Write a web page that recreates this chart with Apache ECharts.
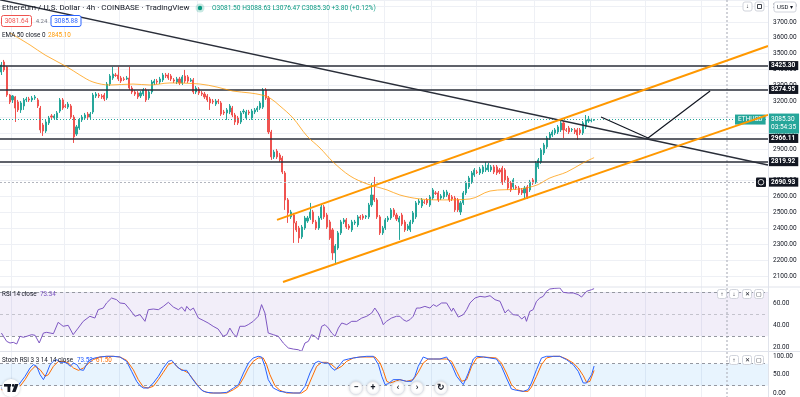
<!DOCTYPE html>
<html><head><meta charset="utf-8">
<script src="https://cdn.jsdelivr.net/npm/echarts@6/dist/echarts.min.js"></script>
<style>html,body{margin:0;padding:0;background:#fff}#c{width:800px;height:397px}</style>
</head><body><div id="c"></div>
<script>
// ---- DATA ----
// candles: [open, close, low, high]
const candles = [
[3385,3429,3366,3448],[3448,3398,3385,3461],[3417,3240,3228,3423],[3240,3196,3183,3246],[3209,3234,3190,3240],
[3228,3158,3070,3234],[3196,3146,3133,3209],[3146,3190,3127,3202],[3171,3209,3146,3221],[3209,3215,3196,3228],
[3215,3209,3196,3228],[3209,3221,3196,3234],[3221,3228,3209,3240],[3209,3171,3158,3221],[3158,3020,3001,3171],
[3051,3013,2982,3064],[3013,3070,3001,3083],[3064,3095,3051,3108],[3108,3101,3089,3120],[3095,3108,3083,3120],
[3095,3127,3083,3139],[3139,3209,3127,3221],[3209,3158,3146,3221],[3171,3168,3158,3183],[3164,3183,3152,3196],
[3171,3101,3089,3183],[3101,2976,2938,3114],[2994,3039,2982,3051],[3032,3083,3020,3095],[3083,3101,3070,3114],
[3095,3114,3083,3127],[3120,3101,3089,3133],[3101,3120,3083,3133],[3133,3240,3120,3253],[3234,3246,3221,3259],
[3240,3234,3221,3253],[3234,3228,3215,3246],[3240,3215,3202,3253],[3221,3309,3209,3322],[3309,3360,3297,3372],
[3347,3372,3335,3417],[3366,3363,3354,3379],[3366,3341,3328,3417],[3347,3328,3316,3360],[3341,3338,3328,3354],
[3341,3347,3335,3360],[3347,3284,3272,3417],[3284,3259,3246,3297],[3259,3246,3234,3272],[3253,3228,3215,3265],
[3234,3253,3221,3265],[3246,3272,3234,3284],[3272,3209,3196,3284],[3221,3259,3209,3272],[3259,3322,3246,3335],
[3316,3328,3303,3341],[3328,3322,3309,3341],[3322,3341,3309,3354],[3335,3366,3322,3379],[3366,3360,3347,3379],
[3366,3347,3335,3379],[3360,3341,3328,3372],[3335,3328,3316,3347],[3322,3341,3309,3354],[3341,3316,3303,3354],
[3316,3354,3303,3366],[3360,3328,3316,3398],[3354,3328,3316,3366],[3328,3335,3322,3347],[3335,3259,3246,3347],
[3259,3284,3246,3297],[3278,3253,3240,3290],[3253,3246,3234,3265],[3246,3228,3215,3259],[3234,3209,3196,3246],
[3215,3190,3146,3228],[3202,3196,3183,3215],[3183,3202,3171,3215],[3202,3196,3183,3215],[3190,3120,3108,3202],
[3133,3127,3114,3146],[3127,3146,3083,3158],[3133,3171,3120,3183],[3158,3114,3101,3171],[3114,3070,3051,3127],
[3095,3064,3051,3108],[3070,3127,3057,3139],[3133,3139,3120,3152],[3095,3133,3083,3146],[3133,3127,3114,3146],
[3095,3139,3083,3152],[3133,3146,3120,3158],[3146,3158,3133,3171],[3158,3190,3146,3202],[3164,3272,3152,3284],
[3272,3221,3209,3284],[3221,3007,2994,3234],[3007,2850,2831,3020],[2850,2881,2837,2894],[2887,2850,2837,2900],
[2862,2831,2818,2875],[2843,2755,2742,2856],[2749,2579,2516,2761],[2579,2497,2434,2591],[2472,2503,2459,2516],
[2484,2434,2308,2497],[2434,2390,2377,2446],[2402,2339,2308,2415],[2346,2408,2333,2421],[2402,2465,2390,2478],
[2446,2465,2434,2478],[2465,2503,2453,2560],[2503,2440,2427,2516],[2440,2402,2390,2453],[2402,2465,2390,2478],
[2465,2535,2453,2547],[2535,2472,2459,2547],[2484,2408,2396,2497],[2440,2339,2327,2453],[2390,2245,2201,2402],
[2245,2289,2176,2301],[2276,2371,2264,2383],[2371,2440,2358,2453],[2440,2453,2427,2465],[2453,2408,2396,2465],
[2415,2402,2390,2427],[2390,2440,2377,2453],[2434,2440,2421,2453],[2421,2472,2408,2484],[2472,2465,2453,2484],
[2478,2465,2453,2490],[2472,2478,2459,2484],[2472,2547,2459,2560],[2547,2610,2535,2686],[2610,2579,2566,2724],
[2579,2472,2459,2591],[2472,2371,2358,2484],[2371,2402,2358,2415],[2402,2453,2390,2465],[2453,2465,2440,2478],
[2465,2516,2453,2528],[2516,2484,2472,2528],[2484,2459,2446,2497],[2440,2465,2327,2478],[2484,2427,2415,2497],
[2440,2390,2377,2453],[2396,2415,2383,2427],[2390,2440,2377,2453],[2440,2497,2427,2509],[2472,2560,2459,2572],
[2560,2572,2547,2585],[2541,2579,2528,2591],[2566,2563,2553,2579],[2579,2560,2547,2591],[2547,2598,2535,2610],
[2591,2642,2579,2654],[2623,2620,2610,2635],[2623,2579,2566,2635],[2591,2604,2579,2616],[2598,2629,2585,2642],
[2610,2629,2598,2642],[2610,2579,2566,2623],[2598,2585,2572,2610],[2591,2516,2503,2604],[2579,2516,2503,2591],
[2503,2560,2484,2572],[2560,2623,2547,2635],[2623,2686,2610,2698],[2661,2717,2648,2730],[2692,2749,2680,2761],
[2736,2768,2724,2780],[2755,2752,2742,2768],[2749,2774,2736,2787],[2755,2787,2742,2799],[2768,2780,2755,2818],
[2768,2799,2755,2812],[2768,2787,2755,2799],[2787,2755,2742,2799],[2787,2749,2736,2799],[2768,2755,2742,2780],
[2780,2686,2673,2793],[2768,2705,2692,2780],[2717,2654,2642,2730],[2686,2642,2629,2698],[2661,2705,2648,2717],
[2661,2654,2642,2673],[2654,2623,2610,2667],[2642,2623,2610,2654],[2623,2654,2591,2667],[2661,2598,2585,2673],
[2642,2692,2629,2705],[2705,2686,2673,2717],[2692,2812,2680,2824],[2787,2831,2774,2843],[2818,2894,2806,2906],
[2875,2925,2862,2938],[2913,2969,2900,2982],[2969,2994,2957,3007],[2988,3007,2976,3020],[3001,3020,2988,3032],
[3007,3039,2994,3051],[3020,3064,3007,3076],[3064,3020,2969,3076],[3020,3017,3007,3032],[3032,3007,2994,3045],
[3020,3023,3007,3032],[3020,3007,2994,3032],[3020,2988,2957,3032],[3020,3001,2988,3032],[3001,3064,2988,3076],
[3039,3083,3026,3114],[3076,3088,3064,3108],[3078,3081.6,3068,3092],[3081.5,3085.3,3076.47,3088.63]
];
const slotCount = 276;
// EMA 50: [bar index, price]
const emaPoints = [[3.1,3631],[10.3,3555],[15.7,3492],[23.6,3417],[28.2,3366],[32.9,3322],[39,3303],[47.3,3309],[53.4,3303],[60.6,3316],[71.4,3309],[77.5,3290],[83.2,3265],[89.3,3253],[93.6,3240],[96.5,3221],[100.1,3171],[104.8,3095],[109.8,2982],[114.5,2906],[119.2,2818],[125.3,2730],[131.4,2680],[138.6,2642],[143.2,2610],[150.4,2585],[158.7,2579],[168.4,2585],[175.6,2635],[186.4,2648],[192.5,2673],[197.1,2717],[203.2,2755],[209,2812],[213,2845.1]];
// drawn trend lines: [bar index, price]
const downTrend = [[-0.5,3840],[275.5,2799]];
const channelUpper = [[99.05,2453],[275.5,3549]];
const channelLower = [[101.2,2062],[275.5,3115]];
const projection = [[215.5,3101],[232.4,2969],[254.7,3265]];
const levels = [3425.30, 3274.95, 2966.11, 2819.92];
const alertLevel = 2690.93;
const lastPrice = 3085.30;
const lastTime = '03:54:35';
const priceTicks = [2100,2200,2300,2400,2500,2600,2700,2800,2900,3000,3100,3200,3300,3400,3500,3600,3700,3800];
const rsiTicks = [20,40,60];
const stochTicks = [0,50,100];
const vGrid = [4,23,43,71,91,118,138,155,171,192,212,232,252];
// RSI 14: [bar index, value]
const rsiPoints = [[0,33.0],[0.7,31.5],[1.9,25.4],[3.1,23.9],[4.3,24.5],[5.5,23.0],[6.7,30.0],[7.9,29.1],[9.1,30.0],[10.9,31.5],[12.1,30.9],[13.6,23.9],[15.1,33.0],[16.3,33.6],[17.5,33.0],[18.7,32.4],[20.4,42.7],[22.2,39.1],[24.0,40.0],[25.8,31.5],[27.6,37.5],[29.4,43.6],[31.8,48.2],[33.6,46.6],[34.8,54.2],[36.6,55.7],[37.8,60.3],[39.6,64.8],[41.4,63.3],[42.6,60.3],[44.4,59.7],[46.2,54.2],[48.0,48.2],[49.8,49.7],[51.6,43.6],[52.8,54.2],[54.6,54.8],[56.4,54.2],[58.2,57.2],[60.0,60.9],[61.8,56.6],[63.6,54.2],[64.8,56.6],[66.0,52.7],[66.6,57.2],[67.8,53.6],[69.0,55.7],[70.8,46.6],[72.5,44.5],[74.3,42.1],[76.1,39.1],[77.9,36.6],[79.7,30.0],[81.0,31.5],[82.1,37.5],[83.3,32.4],[84.5,29.4],[85.7,39.1],[87.5,39.1],[88.7,40.6],[90.5,43.6],[92.3,48.2],[93.5,58.8],[94.7,51.2],[95.9,33.0],[97.7,31.5],[99.5,30.0],[101.3,23.9],[103.1,19.4],[104.9,18.4],[106.7,17.8],[107.9,16.3],[109.1,23.9],[110.3,25.4],[111.5,31.5],[112.7,30.0],[113.9,26.9],[115.1,39.1],[116.3,40.6],[117.5,37.5],[118.7,33.0],[119.9,30.0],[121.1,37.5],[122.3,42.1],[124.1,40.6],[125.9,43.6],[127.7,43.6],[129.5,46.6],[131.3,48.2],[133.1,51.2],[134.2,55.7],[135.4,51.2],[136.6,45.1],[137.2,40.6],[138.4,43.6],[140.2,46.6],[142.0,48.2],[143.2,48.2],[144.4,45.1],[145.6,43.6],[146.8,45.1],[148.0,48.2],[149.2,55.7],[150.4,55.7],[152.2,57.2],[154.0,55.7],[155.2,58.8],[156.4,57.2],[158.2,60.3],[160.0,60.3],[161.8,52.7],[162.4,55.7],[164.2,47.5],[166.0,49.7],[167.2,54.2],[168.4,60.3],[170.2,64.8],[172.0,66.3],[173.8,65.7],[175.6,66.9],[177.4,63.3],[179.2,61.8],[181.0,51.2],[182.1,54.2],[183.9,49.7],[185.7,49.1],[187.0,45.7],[188.1,48.2],[188.7,43.6],[189.9,52.7],[191.1,54.2],[192.3,61.8],[193.5,64.8],[194.7,66.3],[195.9,70.9],[197.1,73.0],[198.9,73.6],[200.7,73.9],[201.3,75.4],[201.9,70.0],[203.7,69.4],[205.5,69.4],[207.3,67.9],[208.5,65.7],[210.3,70.9],[212.1,72.4],[213,73.34]];
// Stoch RSI %K and %D: [bar index, value]
const kPoints = [[0,13.6],[1.3,4.5],[3.1,4.5],[4.9,9.1],[6.7,27.3],[8.5,45.5],[10.3,68.2],[11.5,77.3],[12.7,72.7],[13.9,50],[15.1,36.4],[16.3,54.5],[17.5,77.3],[18.7,86.4],[19.9,90.9],[21.1,83.6],[22.3,83.6],[23.5,81.8],[24.7,72.7],[25.9,81.8],[27.1,77.3],[28.3,63.6],[29.5,61.8],[30.6,77.3],[31.8,90.9],[33.6,95.5],[35.4,98.2],[37.8,100],[40.2,100],[42.6,98.2],[45,86.4],[46.8,59.1],[48.6,31.8],[49.8,20],[51,13.6],[52.8,13.6],[54.6,27.3],[56.4,45.5],[58.2,68.2],[60,86.4],[61.2,89.1],[63,72.7],[64.8,61.8],[66.6,61.8],[68.4,40.9],[70.2,22.7],[72,7.3],[73.8,1.8],[76.2,0],[78.6,0],[81,1.8],[83.4,13.6],[85.2,22.7],[87,54.5],[88.8,81.8],[90.5,95.5],[92.3,100],[93.5,98.2],[94.7,72.7],[95.9,36.4],[97.7,13.6],[100.1,4.5],[102.5,1.8],[104.9,0],[107.3,0],[109.1,18.2],[110.9,54.5],[112.7,81.8],[113.9,86.4],[115.7,81.8],[117.5,81.8],[118.7,68.2],[119.9,61.8],[121.7,77.3],[122.9,89.1],[124.7,92.7],[126.5,95.5],[128.9,98.2],[131.3,100],[133.7,100],[135.5,77.3],[136.7,45.5],[137.9,22.7],[139.1,25.5],[140.8,36.4],[143.2,36.4],[145.6,31.8],[147.4,31.8],[148.6,45.5],[149.8,72.7],[151.6,98.2],[153.4,92.7],[155.2,92.7],[157.6,92.7],[160.0,98.2],[161.8,77.3],[163.6,45.5],[166.0,22.7],[167.8,54.5],[169.6,92.7],[170.8,100],[173.2,98.2],[175.5,95.5],[177.9,92.7],[179.7,72.7],[181.5,40.9],[183.3,10.9],[185.1,7.3],[187.5,4.5],[189.3,9.1],[190.5,27.3],[192.3,63.6],[194.1,95.5],[195.9,100],[198.3,100],[200.7,100],[203.1,90.9],[205.5,77.3],[207.3,59.1],[209.1,27.3],[210.3,27.3],[212.1,50],[213,73.52]];
const dPoints = [[0,9.1],[1.9,7.3],[4.3,7.3],[6.7,18.2],[8.5,36.4],[10.3,59.1],[12.1,72.7],[13.9,63.6],[15.7,45.5],[16.9,50],[18.7,72.7],[20.5,86.4],[22.3,86.4],[24.1,81.8],[25.9,68.2],[27.7,61.8],[29.5,68.2],[31.2,80],[33.0,90.9],[35.4,98.2],[37.8,100],[40.2,100],[42.6,98.2],[45.0,89.1],[47.4,63.6],[49.2,36.4],[51.0,16.4],[52.8,13.6],[54.6,18.2],[56.4,36.4],[58.2,56.4],[60.0,77.3],[61.8,83.6],[63.6,68.2],[65.4,61.8],[67.2,54.5],[69.0,36.4],[70.8,18.2],[72.6,4.5],[75.0,0],[81.0,0],[83.4,9.1],[85.2,18.2],[87.0,40.9],[88.8,68.2],[90.5,86.4],[92.3,95.5],[94.1,95.5],[95.3,77.3],[96.5,50],[98.3,20],[100.1,7.3],[102.5,0],[107.9,0],[109.7,9.1],[111.5,40.9],[113.3,72.7],[115.1,83.6],[116.9,83.6],[118.7,77.3],[120.5,65.5],[122.3,72.7],[124.1,86.4],[126.5,95.5],[128.9,98.2],[134.3,98.2],[136.1,81.8],[137.3,59.1],[138.5,31.8],[139.7,27.3],[141.5,31.8],[143.2,36.4],[145.6,31.8],[148.0,36.4],[149.8,56.4],[151.6,81.8],[153.4,92.7],[160.0,92.7],[161.8,86.4],[163.6,59.1],[165.4,31.8],[167.2,36.4],[169.0,72.7],[170.8,95.5],[173.2,98.2],[177.9,95.5],[179.7,81.8],[181.5,54.5],[183.3,22.7],[185.1,9.1],[187.5,4.5],[189.3,4.5],[190.5,16.4],[192.3,45.5],[194.1,77.3],[195.9,95.5],[198.3,100],[200.7,100],[203.1,92.7],[205.5,81.8],[207.3,68.2],[209.1,47.3],[210.3,29.1],[211.5,31.8],[213,61.5]];

// ---- CHART ----
const FONT = 'Roboto';
const categories = Array.from({length: slotCount}, (_, i) => i);
const chart = echarts.init(document.getElementById('c'), null, {renderer: 'canvas'});

function catAxis(g) {
  return {type:'category', gridIndex:g, data:categories, boundaryGap:true,
    axisLine:{show:false}, axisTick:{show:false}, axisLabel:{show:false},
    splitLine:{show:true, interval:(i)=>vGrid.indexOf(i)>=0, lineStyle:{color:'#eef0f5', width:1}}};
}
function valAxis(g) {
  return {type:'value', gridIndex:g, min:-0.5, max:slotCount-0.5, show:false};
}
const axisLabelBase = {color:'#131722', fontSize:6.5, fontFamily:FONT, margin:5};
const boxLabel = (bg) => ({show:true, position:'end', distance:1, color:'#fff', backgroundColor:bg,
  fontSize:6.5, fontFamily:FONT, fontWeight:'bold', padding:[1,3,1,2], formatter:(p)=>p.value.toFixed(2)});

const levelLines = levels.map(v => ({yAxis:v, lineStyle:{color:'#2a2e39', width:1.5, type:'solid'}, label:boxLabel('#131722')}));
levelLines.push({yAxis:alertLevel, lineStyle:{color:'#b2b5be', width:1, type:[2,2]}, label:boxLabel('#131722')});
levelLines.push({yAxis:lastPrice, lineStyle:{color:'#26a69a', width:1, type:[1,2]},
  label:{show:true, position:'end', distance:1, color:'#fff', backgroundColor:'#26a69a', fontSize:6.5, fontFamily:FONT,
    padding:[2,3,2,2], lineHeight:8, offset:[0,4], formatter:()=>lastPrice.toFixed(2)+'\n'+lastTime}});

const lineSeries = (data, color, width, xi, yi, extra) => Object.assign({
  type:'line', xAxisIndex:xi, yAxisIndex:yi, data:data, showSymbol:false, symbol:'none',
  lineStyle:{color:color, width:width}, silent:true, z:5, animation:false}, extra||{});

const option = {
  animation:false,
  backgroundColor:'#ffffff',
  grid:[
    {left:0, right:32, top:0, height:291.8},
    {left:0, right:32, top:287, height:64},
    {left:0, right:32, top:352, height:45}
  ],
  xAxis:[catAxis(0), catAxis(1), catAxis(2), valAxis(0), valAxis(1), valAxis(2)],
  yAxis:[
    {type:'value', gridIndex:0, position:'right', min:2000, max:3838.6, interval:100,
     axisLine:{show:false}, axisTick:{show:false},
     axisLabel:Object.assign({customValues:priceTicks, formatter:(v)=>v.toFixed(2)}, axisLabelBase),
     splitLine:{show:true, lineStyle:{color:'#eef0f5'}}},
    {type:'value', gridIndex:1, position:'right', min:16.64, max:74.82,
     axisLine:{show:false}, axisTick:{show:false}, splitLine:{show:false},
     axisLabel:Object.assign({customValues:rsiTicks, formatter:(v)=>v.toFixed(2)}, axisLabelBase)},
    {type:'value', gridIndex:2, position:'right', min:-10.9, max:111.8,
     axisLine:{show:false}, axisTick:{show:false}, splitLine:{show:false},
     axisLabel:Object.assign({customValues:stochTicks, formatter:(v)=>v.toFixed(2)}, axisLabelBase)}
  ],
  series:[
    {type:'candlestick', name:'ETHUSD', xAxisIndex:0, yAxisIndex:0, data:candles, barWidth:1.6,
     itemStyle:{color:'#26a69a', color0:'#ef5350', borderColor:'#26a69a', borderColor0:'#ef5350', borderWidth:1},
     markLine:{silent:true, symbol:['none','none'], animation:false, data:levelLines},
     markPoint:{silent:true, animation:false, symbol:'rect', symbolSize:0,
       data:[{coord:[slotCount-1, lastPrice], label:{show:true, position:'left', distance:1, formatter:'ETHUSD',
         color:'#fff', backgroundColor:'#26a69a', fontSize:6.5, fontFamily:FONT, padding:[2,3,1,3]}}]}},
    lineSeries(emaPoints, 'rgba(255,152,0,0.75)', 1, 3, 0, {smooth:0.35}),
    lineSeries(downTrend, '#2a2e39', 1.4, 3, 0),
    lineSeries(channelUpper, '#ff9800', 2, 3, 0),
    lineSeries(channelLower, '#ff9800', 2, 3, 0),
    lineSeries(projection, '#131722', 1.2, 3, 0),
    lineSeries(rsiPoints, '#7e57c2', 1, 4, 1, {
      markArea:{silent:true, itemStyle:{color:'rgba(126,87,194,0.10)'}, data:[[{yAxis:30},{yAxis:70}]]},
      markLine:{silent:true, symbol:['none','none'], label:{show:false}, data:[
        {yAxis:70, lineStyle:{color:'#9598a1', type:[3,3], width:1}},
        {yAxis:50, lineStyle:{color:'rgba(149,152,161,0.5)', type:[3,3], width:1}},
        {yAxis:30, lineStyle:{color:'#9598a1', type:[3,3], width:1}}]}}),
    lineSeries(dPoints, '#ff6d00', 1, 5, 2, {
      markArea:{silent:true, itemStyle:{color:'rgba(33,150,243,0.10)'}, data:[[{yAxis:20},{yAxis:80}]]},
      markLine:{silent:true, symbol:['none','none'], label:{show:false}, data:[
        {yAxis:80, lineStyle:{color:'#9598a1', type:[3,3], width:1}},
        {yAxis:20, lineStyle:{color:'#9598a1', type:[3,3], width:1}}]}}),
    lineSeries(kPoints, '#2962ff', 1, 5, 2)
  ],
  graphic:{elements:[
    {type:'line', shape:{x1:0,y1:287,x2:800,y2:287}, style:{stroke:'#e0e3eb', lineWidth:1}, z:50},
    {type:'line', shape:{x1:0,y1:351.5,x2:800,y2:351.5}, style:{stroke:'#e0e3eb', lineWidth:1}, z:50},
    {type:'line', shape:{x1:768.5,y1:0,x2:768.5,y2:397}, style:{stroke:'#e0e3eb', lineWidth:1}, z:50},
    {type:'line', shape:{x1:727,y1:0,x2:727,y2:397}, style:{stroke:'#b2b5be', lineWidth:1.2, lineDash:[2,2]}, z:4},
    // header
    {type:'text', x:2, y:8, z:100, style:{text:'Ethereum / U.S. Dollar · 4h · COINBASE · TradingView', font:'8px '+FONT, fill:'#131722', verticalAlign:'middle'}},
    {type:'circle', shape:{cx:200, cy:8, r:4.5}, style:{fill:'rgba(8,153,129,0.22)'}, z:100},
    {type:'circle', shape:{cx:200, cy:8, r:2.2}, style:{fill:'#089981'}, z:101},
    {type:'text', x:212, y:8, z:100, style:{text:'O3081.50 H3088.63 L3076.47 C3085.30 +3.80 (+0.12%)', font:'6.6px '+FONT, fill:'#089981', verticalAlign:'middle'}},
    {type:'rect', shape:{x:1.5, y:15.5, width:30, height:11, r:2}, style:{fill:'#fff', stroke:'#ef5350', lineWidth:1}, z:100},
    {type:'text', x:16.5, y:21, z:101, style:{text:'3081.64', font:'6.5px '+FONT, fill:'#ef5350', align:'center', verticalAlign:'middle'}},
    {type:'text', x:41.5, y:21, z:101, style:{text:'4.24', font:'6px '+FONT, fill:'#787b86', align:'center', verticalAlign:'middle'}},
    {type:'rect', shape:{x:51, y:15.5, width:30, height:11, r:2}, style:{fill:'#fff', stroke:'#2962ff', lineWidth:1}, z:100},
    {type:'text', x:66, y:21, z:101, style:{text:'3085.88', font:'6.5px '+FONT, fill:'#2962ff', align:'center', verticalAlign:'middle'}},
    {type:'text', x:2, y:35, z:100, style:{text:'EMA 50 close 0', font:'6.3px '+FONT, fill:'#131722', verticalAlign:'middle'}},
    {type:'text', x:48, y:35, z:100, style:{text:'2845.10', font:'6.3px '+FONT, fill:'#ff9800', verticalAlign:'middle'}},
    {type:'text', x:2, y:294, z:100, style:{text:'RSI 14 close', font:'6.3px '+FONT, fill:'#131722', verticalAlign:'middle'}},
    {type:'text', x:40, y:294, z:100, style:{text:'73.34', font:'6.3px '+FONT, fill:'#7e57c2', verticalAlign:'middle'}},
    {type:'text', x:2, y:360, z:100, style:{text:'Stoch RSI 3 3 14 14 close', font:'6.3px '+FONT, fill:'#131722', verticalAlign:'middle'}},
    {type:'text', x:77, y:360, z:100, style:{text:'73.52', font:'6.3px '+FONT, fill:'#2962ff', verticalAlign:'middle'}},
    {type:'text', x:96, y:360, z:100, style:{text:'61.50', font:'6.3px '+FONT, fill:'#ff6d00', verticalAlign:'middle'}},
    // top-right controls
    {type:'rect', shape:{x:774, y:2, width:22, height:10, r:2}, style:{fill:'#fff', stroke:'#d1d4dc', lineWidth:1}, z:100},
    {type:'text', x:785, y:7, z:101, style:{text:'USD ▾', font:'6px '+FONT, fill:'#131722', align:'center', verticalAlign:'middle'}},
    {type:'rect', shape:{x:743, y:2, width:9, height:9, r:2}, style:{fill:'#fff', stroke:'#d1d4dc', lineWidth:1}, z:100},
    {type:'text', x:747.5, y:6.8, z:101, style:{text:'↓', font:'6px '+FONT, fill:'#131722', align:'center', verticalAlign:'middle'}},
    {type:'rect', shape:{x:755, y:2, width:9, height:9, r:2}, style:{fill:'#fff', stroke:'#d1d4dc', lineWidth:1}, z:100},
    {type:'rect', shape:{x:757.5, y:4.5, width:4, height:4}, style:{fill:'none', stroke:'#131722', lineWidth:0.8}, z:101},
    // alert icon near 2690.93
    {type:'rect', shape:{x:756, y:177.5, width:10, height:9.5, r:1}, style:{fill:'#131722'}, z:100},
    {type:'circle', shape:{cx:761, cy:182.2, r:2.8}, style:{fill:'none', stroke:'#fff', lineWidth:0.8}, z:101},
    // pane buttons
    ...[['↑',722,294],['↓',734,294],['✕',747,294],['▢',759,294],['↑',734,360],['✕',747,360],['▢',759,360]].flatMap(([t,x,y])=>[
      {type:'rect', shape:{x:x-4.5, y:y-4.5, width:9, height:9, r:2}, style:{fill:'#fff', stroke:'#d1d4dc', lineWidth:1}, z:100},
      {type:'text', x:x, y:y, z:101, style:{text:t, font:'6px '+FONT, fill:'#131722', align:'center', verticalAlign:'middle'}}]),
    // navigation buttons
    ...[['−',356],['+',373],['‹',398],['›',417],['↻',441]].flatMap(([t,x])=>[
      {type:'circle', shape:{cx:x, cy:388, r:6.5}, style:{fill:'#fff', stroke:'#e0e3eb', lineWidth:1, shadowBlur:3, shadowColor:'rgba(0,0,0,0.15)'}, z:100},
      {type:'text', x:x, y:388, z:101, style:{text:t, font:'bold 9px '+FONT, fill:'#131722', align:'center', verticalAlign:'middle'}}]),
    // TradingView logo
    {type:'circle', shape:{cx:11, cy:388, r:9}, style:{fill:'#fff', shadowBlur:3, shadowColor:'rgba(0,0,0,0.2)'}, z:100},
    {type:'rect', shape:{x:4, y:384, width:7, height:2.6}, style:{fill:'#131722'}, z:101},
    {type:'rect', shape:{x:7.5, y:384, width:2.8, height:8}, style:{fill:'#131722'}, z:101},
    {type:'circle', shape:{cx:13.2, cy:385.4, r:1.4}, style:{fill:'#131722'}, z:101},
    {type:'polygon', shape:{points:[[15,384],[18.5,384],[15.5,392],[12,392]]}, style:{fill:'#131722'}, z:101}
  ]}
};
chart.setOption(option);
</script>
</body></html>
